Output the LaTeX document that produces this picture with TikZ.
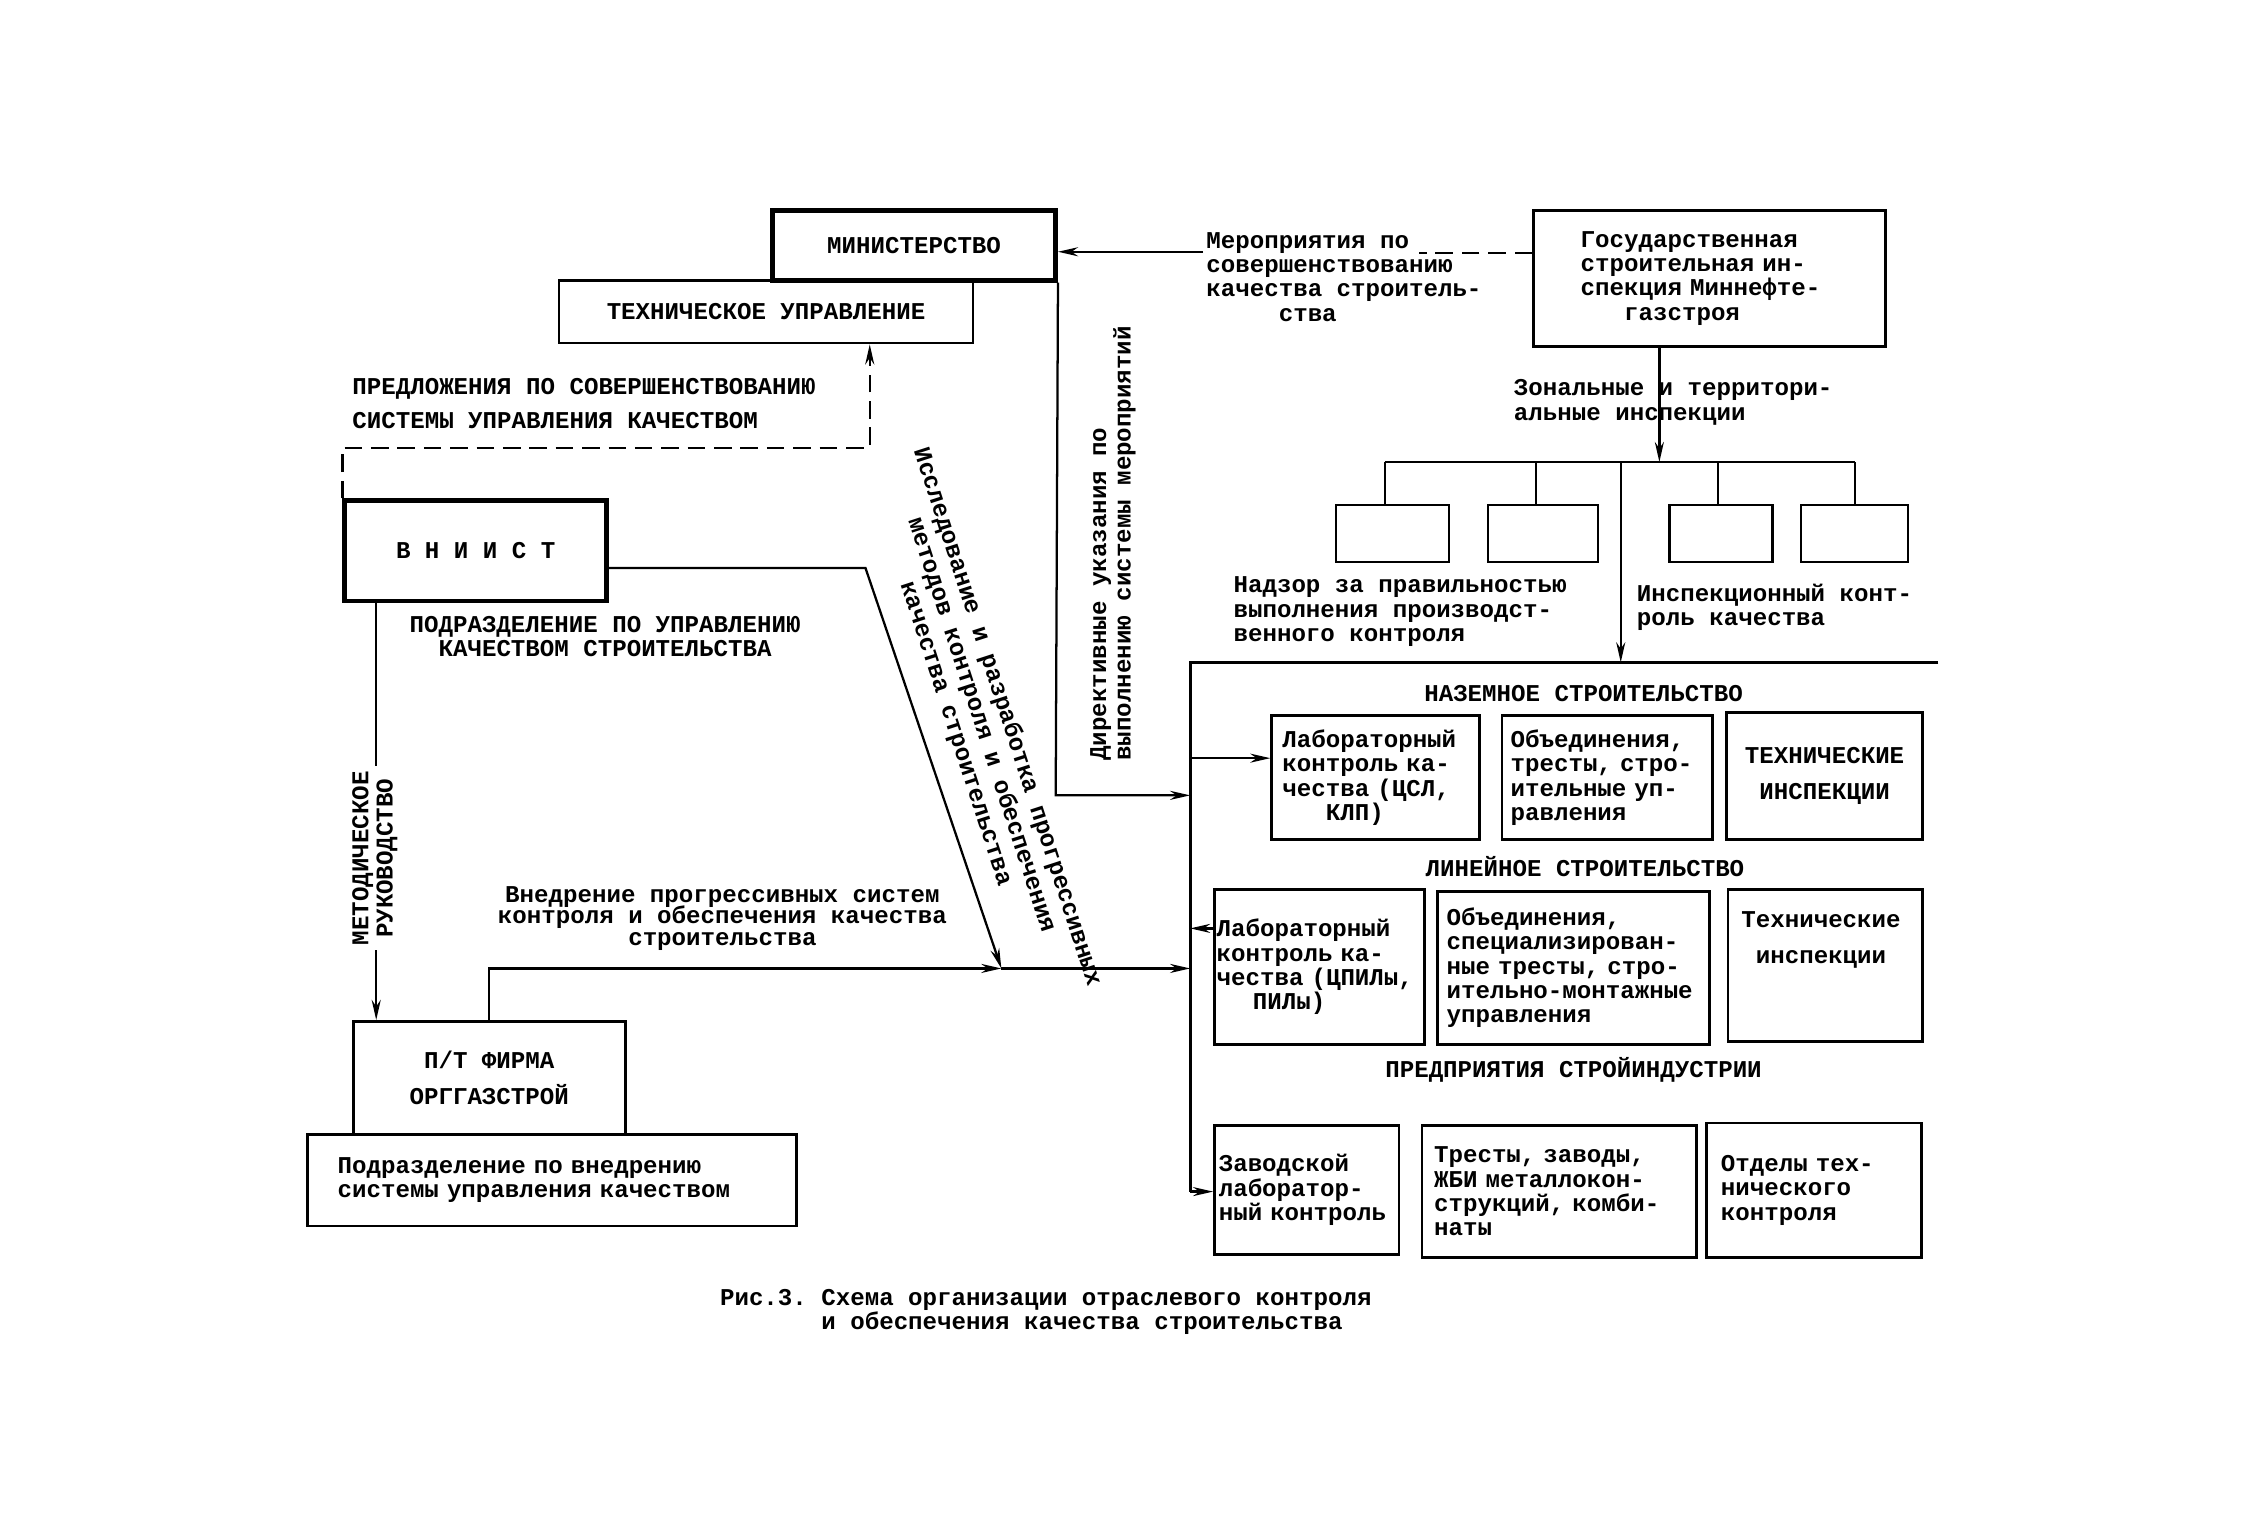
\documentclass[tikz,border=0pt]{standalone}
\usepackage{fontspec}
\setmonofont{Liberation Mono}
\usetikzlibrary{arrows.meta}

\providecommand{\schemefont}{\ttfamily\bfseries\fontsize{9.6pt}{9.7pt}\selectfont}
\providecommand{\edgethickness}{0.9pt}
\providecommand{\boxthickness}{1.1pt}
\providecommand{\heavythickness}{1.8pt}

\tikzset{
    box_size/.style 2 args={minimum width={#1*0.02cm}, minimum height={#2*0.02cm}},
    box_text/.style={align=left, text width=#1}
}

\begin{document}
\begin{tikzpicture}[
    x=0.02cm, y=-0.02cm,
    % Node styles
    box_base/.style={
        draw=black,
        line width=\boxthickness,
        inner sep=0.333em,
        font=\schemefont
    },
    box_thin/.style={box_base, line width=\edgethickness},
    box_heavy/.style={box_base, line width=\heavythickness},
    % Text styles
    side_label/.style={font=\schemefont, inner sep=0pt, align=left},
    head_label/.style={font=\schemefont, inner sep=0pt, align=center},
    % Edge styles
    normal_edge/.style={
        line width=\edgethickness,
        draw=black
    },
    arrow_edge/.style={normal_edge, -{Stealth[length=8pt, width=3.6pt]}},
    dashed_edge/.style={normal_edge, dash pattern=on 7pt off 3.5pt}
]
    \useasboundingbox (0,0) rectangle (1568,1074);

    % ==================== TOP: Ministry and state inspection ====================
    \node[box_thin, box_size={289}{44}] (tech) at (535.5,218) {ТЕХНИЧЕСКОЕ УПРАВЛЕНИЕ};
    \node[box_heavy, box_size={198}{49}] (min) at (639,171.5) {МИНИСТЕРСТВО};
    \node[box_base, box_size={246}{95}, box_text=3.6cm] (gos) at (1195,194.5)
        {Государственная\\строительная ин-\\спекция Миннефте-\\\hspace*{1.8em}газстроя};

    % Measures from the inspection to the ministry
    \node[side_label, anchor=north west] (mero) at (843,162)
        {Мероприятия по\\совершенствованию\\качества строитель-\\\hspace*{3em}ства};
    \coordinate (mero_in) at (841,176);
    \coordinate (mero_out) at (992,177);
    \draw[dashed_edge] (gos.west |- mero_out) -- (mero_out);
    \draw[arrow_edge] (mero_in) -- (min.east |- mero_in);

    % ==================== ZONAL INSPECTIONS ====================
    \coordinate (zone_bus) at (1160,323);
    \coordinate (bus_l) at (968,323);
    \coordinate (bus_b) at (1074,323);
    \coordinate (bus_c) at (1201,323);
    \coordinate (bus_r) at (1297,323);
    \coordinate (insp_top) at (1133,323);

    \draw[arrow_edge] (gos.south -| zone_bus) -- (zone_bus);
    \node[side_label, anchor=north west] (zone) at (1058,265)
        {Зональные и территори-\\альные инспекции};

    \node[box_thin, box_size={79}{40}] (zone_a) at (973.5,373) {};
    \node[box_thin, box_size={77}{40}] (zone_b) at (1078.5,373) {};
    \node[box_thin, box_size={72}{40}] (zone_c) at (1203,373) {};
    \node[box_thin, box_size={75}{40}] (zone_d) at (1296.5,373) {};

    \draw[normal_edge] (bus_l) -- (bus_r);
    \draw[normal_edge] (bus_l) -- (zone_a.north -| bus_l);
    \draw[normal_edge] (bus_b) -- (zone_b.north -| bus_b);
    \draw[normal_edge] (bus_c) -- (zone_c.north -| bus_c);
    \draw[normal_edge] (bus_r) -- (zone_d.north -| bus_r);

    \node[side_label, anchor=north west] (supervision) at (862,403)
        {Надзор за правильностью\\выполнения производст-\\венного контроля};
    \node[side_label, anchor=north west] (inspection) at (1144,408)
        {Инспекционный конт-\\роль качества};

    % ==================== RIGHT FRAME: construction branches ====================
    \coordinate (frame_tl) at (832,463);
    \coordinate (frame_tr) at (1355,463);
    \coordinate (frame_bl) at (832,833);
    \draw[normal_edge, line width=\boxthickness] (frame_tr) -- (frame_tl) -- (frame_bl);
    \draw[arrow_edge] (insp_top) -- (insp_top |- frame_tl);

    \node[head_label] (ground) at (1107,485) {НАЗЕМНОЕ СТРОИТЕЛЬСТВО};
    \node[box_base, box_size={145}{87}, box_text=2.6cm] (lab_a) at (961.5,543.5)
        {Лабораторный\\контроль ка-\\чества (ЦСЛ,\\\hspace*{1.8em}КЛП)};
    \node[box_base, box_size={147}{87}, box_text=2.7cm] (trust_a) at (1123.5,543.5)
        {Объединения,\\тресты, стро-\\ительные уп-\\равления};
    \node[box_base, box_size={137}{89}, align=center] (insp_a) at (1275.5,542.5)
        {ТЕХНИЧЕСКИЕ\\[4.4pt]ИНСПЕКЦИИ};

    \node[head_label] (linear) at (1108,606) {ЛИНЕЙНОЕ СТРОИТЕЛЬСТВО};
    \node[box_base, box_size={147}{108}, box_text=2.88cm, inner xsep=0.02cm] (lab_d) at (922.5,676)
        {Лабораторный\\контроль ка-\\чества (ЦПИЛы,\\\hspace*{1.5em}ПИЛы)};
    \node[box_base, box_size={190}{107}, box_text=3.55cm] (trust_d) at (1100,676.5)
        {Объединения,\\специализирован-\\ные тресты, стро-\\ительно-монтажные\\управления};
    \node[box_base, box_size={136}{106}] (insp_d) at (1276,675) {};
    \node[head_label] (insp_d_text) at (1273,657) {Технические\\[4.4pt]инспекции};

    \node[head_label] (industry) at (1100,748) {ПРЕДПРИЯТИЯ СТРОЙИНДУСТРИИ};
    \node[box_base, box_size={129}{90}, box_text=2.46cm, inner xsep=0.04cm] (plant_lab) at (913.5,832)
        {Заводской\\лаборатор-\\ный контроль};
    \node[box_base, box_size={192}{92}, box_text=3.5cm] (plant_trust) at (1090,833)
        {Тресты, заводы,\\ЖБИ металлокон-\\струкций, комби-\\наты};
    \node[box_base, box_size={150}{94}, box_text=2.6cm] (plant_tech) at (1268,832)
        {Отделы тех-\\нического\\контроля};

    % Links between the frame bar and the laboratories
    \coordinate (lab_a_in) at (832,530);
    \coordinate (lab_d_out) at (832,649);
    \draw[arrow_edge] (lab_a_in) -- (lab_a.west |- lab_a_in);
    \draw[arrow_edge] (lab_d.west |- lab_d_out) -- (lab_d_out);
    \draw[arrow_edge] (frame_bl) -- (plant_lab.west |- frame_bl);

    % Directives from the ministry
    \coordinate (dir_corner) at (738,556);
    \draw[arrow_edge] (min.south east) -- (dir_corner) -- (frame_tl |- dir_corner);
    \node[side_label, rotate=90, anchor=west] (directive) at (778,532)
        {Директивные указания по\\выполнению системы мероприятий};

    % ==================== LEFT: research institute and firm ====================
    \node[box_heavy, box_size={183}{70}] (vniist) at (332.5,385) {В Н И И С Т};
    \node[side_label, anchor=north west] (sugg) at (246,264)
        {ПРЕДЛОЖЕНИЯ ПО СОВЕРШЕНСТВОВАНИЮ\\[4pt]СИСТЕМЫ УПРАВЛЕНИЯ КАЧЕСТВОМ};
    \coordinate (sugg_corner) at (608,313);
    \draw[dashed_edge, -{Stealth[length=8pt, width=3.6pt]}]
        (vniist.north west) |- (sugg_corner) -- (tech.south -| sugg_corner);

    \node[head_label] (subdiv) at (423,445)
        {ПОДРАЗДЕЛЕНИЕ ПО УПРАВЛЕНИЮ\\КАЧЕСТВОМ СТРОИТЕЛЬСТВА};

    \node[box_base, box_size={190}{79}, align=center] (firm) at (342,753.5)
        {П/Т ФИРМА\\[5pt]ОРГГАЗСТРОЙ};
    \node[box_base, box_size={342}{64}, box_text=6.0cm] (firm_div) at (386,825)
        {Подразделение по внедрению\\системы управления качеством};

    % Methodical guidance down to the firm
    \coordinate (meth) at (263,560);
    \draw[arrow_edge] (vniist.south -| meth) -- (firm.north -| meth);
    \node[head_label, rotate=90, fill=white, inner sep=2pt] (meth_label) at (262,600)
        {МЕТОДИЧЕСКОЕ\\РУКОВОДСТВО};

    % Research and introduction flows to the frame
    \coordinate (res_start) at (424,397);
    \coordinate (res_bend) at (605,397);
    \coordinate (res_join) at (700,677);
    \draw[arrow_edge] (res_start) -- (res_bend) -- (res_join);
    \draw[arrow_edge] (firm.north) |- (res_join);
    \draw[arrow_edge] (res_join) -- (frame_tl |- res_join);

    \node[head_label, rotate=-72] (research) at (686,507)
        {Исследование и разработка прогрессивных\\[1pt]методов контроля и обеспечения\\[1pt]качества строительства};
    \node[head_label] (intro) at (505,642)
        {Внедрение прогрессивных систем\\[-1.2pt]контроля и обеспечения качества\\[-1.2pt]строительства};

    % Figure caption
    \node[side_label, anchor=north west] (fig_caption) at (503,901)
        {Рис.3. Схема организации отраслевого контроля\\\hspace*{4.2em}и обеспечения качества строительства};

\end{tikzpicture}
\end{document}
